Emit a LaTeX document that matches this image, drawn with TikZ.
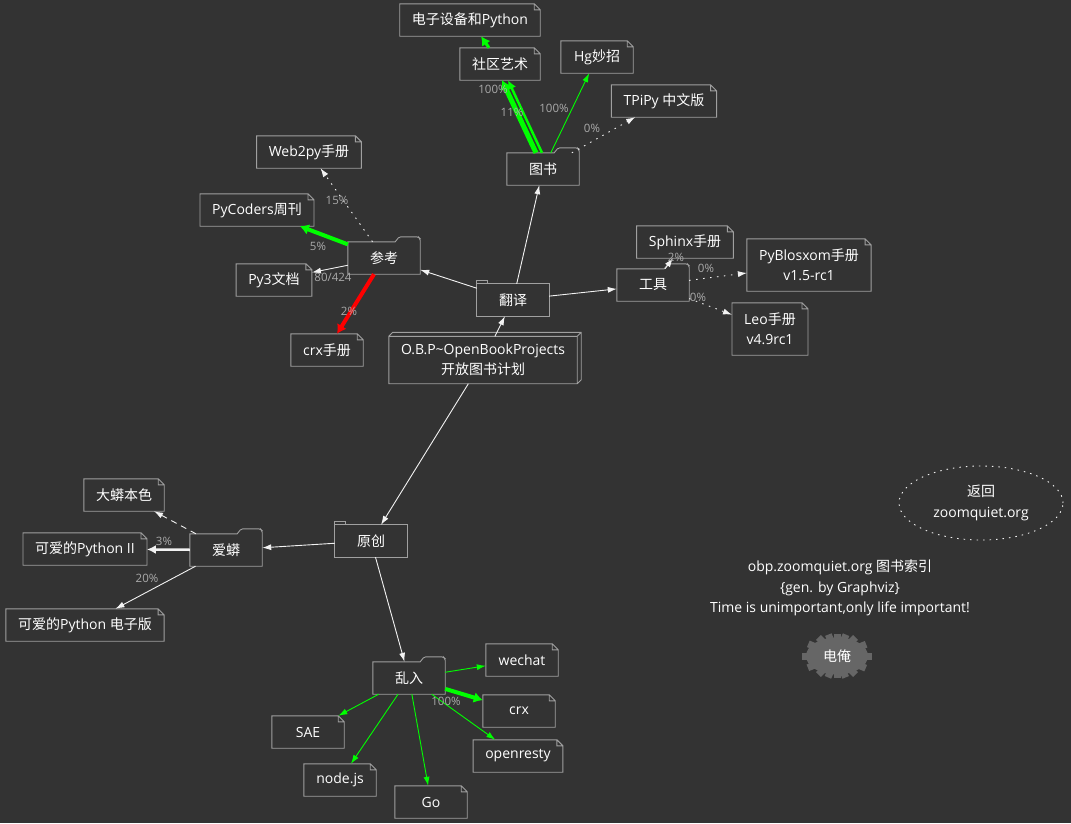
\documentclass[tikz,border=0pt]{standalone}
\usepackage{fontspec}
\setmainfont{Open Sans}
\newfontfamily\cjk{Noto Sans CJK SC}
\usepackage{tikz}
\usetikzlibrary{calc,arrows.meta,shapes.geometric}
\newcommand{\zh}[1]{{\cjk #1}}
\definecolor{bg}{HTML}{333333}
\definecolor{frame}{HTML}{A0A0A0}
\definecolor{edgecol}{HTML}{F2F2F2}
\definecolor{muted}{HTML}{AAAAAA}
\definecolor{lime}{HTML}{00FF00}
\definecolor{alert}{HTML}{FF0000}
\definecolor{cogfill}{HTML}{666666}
\tikzset{
  box/.style={rectangle, minimum width=72, minimum height=32, inner xsep=12pt,
    text=white, font=\fontsize{14}{20}\selectfont},
  outline/.style={draw=frame, line width=0.9pt},
  link/.style={draw=edgecol, line width=0.9pt, -{Latex[length=9pt,width=6pt]}},
  fat/.style={line width=4pt, -{Latex[length=9pt,width=11pt]}},
  grn/.style={draw=lime},
  rd/.style={draw=alert},
  dots/.style={dash pattern=on 1.5pt off 5.5pt},
  dashes/.style={dash pattern=on 6pt off 5pt},
  lab/.style={text=muted, font=\fontsize{11.5}{13}\selectfont, inner sep=0pt},
  txt/.style={text=white, font=\fontsize{14}{20.5}\selectfont, align=center},
}
\begin{document}
\begin{tikzpicture}[x=1pt, y=-1pt]
  \fill[bg] (0,0) rectangle (1071,823);
  \useasboundingbox (0,0) rectangle (1071,823);

  % books
  \node[box] (dianzi) at (470,20) {\zh{电子设备和}Python};
  \node[box] (shequ) at (500,64) {\zh{社区艺术}};
  \node[box] (hg) at (597,57) {Hg\zh{妙招}};
  \node[box] (tpipy) at (664,101) {TPiPy \zh{中文版}};
  \node[box] (tushu) at (543,169) {\zh{图书}};
  \node[box] (web2py) at (309,152) {Web2py\zh{手册}};
  \node[box] (pycoders) at (257,210) {PyCoders\zh{周刊}};
  \node[box] (cankao) at (384,258) {\zh{参考}};
  \node[box] (py3) at (274,280) {Py3\zh{文档}};
  \node[box] (crxsc) at (327,350) {crx\zh{手册}};
  \node[box] (fanyi) at (513,300) {\zh{翻译}};
  \node[box, align=center, minimum width=183, minimum height=47] (obp) at (483,360)
    {O.B.P\textasciitilde OpenBookProjects\\\zh{开放图书计划}};
  \node[box] (sphinx) at (685,242) {Sphinx\zh{手册}};
  \node[box] (gongju) at (653,285) {\zh{工具}};
  \node[box, align=center, minimum height=52] (pyblosxom) at (809,265) {PyBlosxom\zh{手册}\\v1.5-rc1};
  \node[box, align=center, minimum height=52] (leo) at (770,329) {Leo\zh{手册}\\v4.9rc1};
  \node[box] (dama) at (124,495) {\zh{大蟒本色}};
  \node[box] (keai2) at (85,549) {\zh{可爱的}Python II};
  \node[box] (aimang) at (226,550) {\zh{爱蟒}};
  \node[box] (yuanchuang) at (371,541) {\zh{原创}};
  \node[box] (keaidz) at (85,625) {\zh{可爱的}Python \zh{电子版}};
  \node[box] (luanru) at (409,678) {\zh{乱入}};
  \node[box] (wechat) at (522,660) {wechat};
  \node[box] (crx) at (519,711) {crx};
  \node[box] (sae) at (308,732) {SAE};
  \node[box] (openresty) at (518,756) {openresty};
  \node[box] (nodejs) at (340,780) {node.js};
  \node[box] (go) at (431,802) {Go};

  % outlines: note, folder, tab, box3d
  \foreach \n in {dianzi,shequ,hg,tpipy,web2py,pycoders,py3,crxsc,sphinx,pyblosxom,leo,
                  dama,keai2,keaidz,wechat,crx,sae,openresty,nodejs,go}
    \draw[outline] (\n.south west) -- (\n.north west) -- ([xshift=-6pt]\n.north east)
      -- ([yshift=-6pt]\n.north east) -- (\n.south east) -- cycle
      ([xshift=-6pt]\n.north east) |- ([yshift=-6pt]\n.north east);
  \foreach \n in {tushu,cankao,gongju,aimang,luanru}
    \draw[outline] (\n.south west) -- (\n.north west) -- ([xshift=-25pt]\n.north east)
      [rounded corners=1.5pt] -- ([xshift=-21pt,yshift=5pt]\n.north east)
      -- ([xshift=-2pt,yshift=5pt]\n.north east) -- ([yshift=3pt]\n.north east)
      [sharp corners] -- (\n.south east) -- cycle;
  \foreach \n in {fanyi,yuanchuang}
    \draw[outline] (\n.south west) rectangle (\n.north east)
      (\n.north west) -- ([yshift=3pt]\n.north west) -- ([xshift=11pt,yshift=3pt]\n.north west)
      -- ([xshift=11pt]\n.north west);
  \draw[outline] (obp.south west) rectangle (obp.north east)
    (obp.north west) -- ([xshift=4pt,yshift=4pt]obp.north west)
    -- ([xshift=4pt,yshift=4pt]obp.north east) -- ([xshift=4pt,yshift=4pt]obp.south east)
    -- (obp.south east) (obp.north east) -- ([xshift=4pt,yshift=4pt]obp.north east);

  % edges
  \draw[link] (obp) -- (fanyi);
  \draw[link] (obp) -- (yuanchuang);
  \draw[link] (fanyi) -- (tushu);
  \draw[link] (fanyi) -- (cankao);
  \draw[link] (fanyi) -- (gongju);
  \draw[link, grn, line width=5pt, -{Latex[length=9pt,width=12pt]}]
    ([xshift=-7pt]tushu.north) -- ([xshift=2pt]shequ.south);
  \draw[link, grn, line width=2.5pt, -{Latex[length=9pt,width=9pt]}]
    ([xshift=-1pt]tushu.north) -- ([xshift=8pt]shequ.south);
  \draw[link, grn, line width=3pt, -{Latex[length=9pt,width=10pt]}] (shequ) -- (dianzi);
  \draw[link, grn] (tushu) -- (hg);
  \draw[link, dots] (tushu) -- (tpipy);
  \draw[link, dots] (cankao) -- (web2py);
  \draw[link, grn, fat] (cankao) -- (pycoders);
  \draw[link] (cankao) -- (py3);
  \draw[link, rd, fat] (cankao) -- (crxsc);
  \draw[link] (gongju) -- (sphinx);
  \draw[link, dots] (gongju) -- (pyblosxom);
  \draw[link, dots] (gongju) -- (leo);
  \draw[link] (yuanchuang) -- (aimang);
  \draw[link] (yuanchuang) -- (luanru);
  \draw[link, dashes] (aimang) -- (dama);
  \draw[link, line width=2.5pt, -{Latex[length=9pt,width=9pt]}] (aimang) -- (keai2);
  \draw[link] (aimang) -- (keaidz);
  \foreach \n in {wechat,sae,nodejs,go,openresty}
    \draw[link, grn] (luanru) -- (\n);
  \draw[link, grn, fat] (luanru) -- (crx);

  % edge labels
  \node[lab] (l-shequ-a) at (493,89) {100\%};
  \node[lab] (l-shequ-b) at (512,112) {11\%};
  \node[lab] (l-hg) at (554,108) {100\%};
  \node[lab] (l-tpipy) at (592,128) {0\%};
  \node[lab] (l-web2py) at (337,200) {15\%};
  \node[lab] (l-pycoders) at (318,246) {5\%};
  \node[lab] (l-py3) at (333,277) {80/424};
  \node[lab] (l-crxsc) at (349,311) {2\%};
  \node[lab] (l-sphinx) at (676,257) {2\%};
  \node[lab] (l-pyblosxom) at (706,268) {0\%};
  \node[lab] (l-leo) at (698,297) {0\%};
  \node[lab] (l-keai2) at (164,541) {3\%};
  \node[lab] (l-keaidz) at (147,578) {20\%};
  \node[lab] (l-crx) at (446,701) {100\%};

  % legend
  \node[txt, draw=edgecol, line width=0.9pt, dash pattern=on 1.5pt off 5pt, ellipse,
    minimum width=164, minimum height=74] (home) at (981,503) {\zh{返回}\\zoomquiet.org};
  \node[txt] (info) at (840,588)
    {obp.zoomquiet.org \zh{图书索引}\\\{gen. by Graphviz\}\\Time is unimportant,only life important!};
  \node[txt, ellipse, fill=cogfill, minimum width=62, minimum height=37, inner sep=0pt] (dianan)
    at (837,656) {\zh{电俺}};
  \foreach \a in {0,22.5,...,337.5}
    \draw[cogfill, line width=7pt] ($(dianan.\a)!3pt!(dianan.center)$) -- ($(dianan.\a)!-3.5pt!(dianan.center)$);
\end{tikzpicture}
\end{document}
